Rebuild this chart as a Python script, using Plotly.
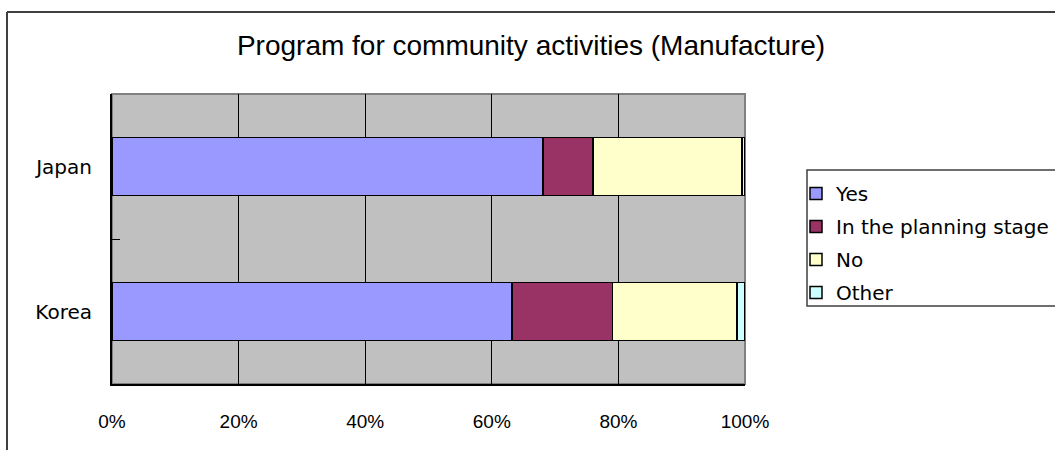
import plotly.graph_objects as go

countries = ["Korea", "Japan"]
series_names = ["Yes", "In the planning stage", "No", "Other"]
yes_vals = [0.632, 0.681]
planning_vals = [0.159, 0.079]
no_vals = [0.196, 0.235]
other_vals = [0.013, 0.005]
x_tick_vals = [0, 0.2, 0.4, 0.6, 0.8, 1.0]
x_tick_text = ["0%", "20%", "40%", "60%", "80%", "100%"]

colors = ["#9999FF", "#993366", "#FFFFCC", "#CCFFFF"]
values = [yes_vals, planning_vals, no_vals, other_vals]

fig = go.Figure()
for name, vals, col in zip(series_names, values, colors):
    fig.add_trace(go.Bar(
        y=countries, x=vals, name=name, orientation="h",
        width=0.4, legendgroup=name,
        marker=dict(color=col, line=dict(color="black", width=1.5)),
    ))

W, H = 1055, 450
L, R, T, B = 112, 745, 94, 384
def px(x):
    return (x - L) / (R - L)
def py(y):
    return (B - y) / (B - T)

fig.update_layout(
    width=W, height=H,
    margin=dict(l=L, r=W - R, t=T, b=H - B, autoexpand=False),
    barmode="stack",
    paper_bgcolor="white",
    plot_bgcolor="#C0C0C0",
    showlegend=True,
    title=dict(text="Program for community activities (Manufacture)",
               x=531 / W, xref="container", xanchor="center",
               y=1 - 45 / H, yref="container", yanchor="middle",
               font=dict(family="Liberation Sans, Arial, sans-serif", size=28, color="black")),
    legend=dict(x=px(796), y=py(174), xanchor="left", yanchor="top",
                xref="paper", yref="paper",
                bgcolor="rgba(0,0,0,0)", borderwidth=0,
                tracegroupgap=4, traceorder="grouped",
                font=dict(family="DejaVu Sans", size=20, color="black")),
    xaxis=dict(range=[0, 1], tickvals=x_tick_vals, ticktext=x_tick_text,
               showgrid=True, gridcolor="black", gridwidth=1,
               showline=True, linecolor="black", linewidth=2,
               ticks="", ticklabelstandoff=19, zeroline=False,
               tickfont=dict(family="Liberation Sans, Arial, sans-serif", size=19, color="black")),
    yaxis=dict(type="category", categoryorder="array", categoryarray=countries,
               range=[-0.5, 1.5], showgrid=False,
               showline=True, linecolor="black", linewidth=2,
               ticks="inside", ticklen=8, tickcolor="black", tickson="boundaries",
               ticklabelstandoff=14,
               tickfont=dict(family="DejaVu Sans", size=20, color="black")),
    shapes=[
        dict(type="rect", xref="paper", yref="paper", x0=0, x1=1, y0=0, y1=1,
             line=dict(color="#808080", width=2), layer="below"),
        dict(type="rect", xref="paper", yref="paper", x0=px(807), x1=px(1070),
             y0=py(306), y1=py(170), line=dict(color="#404040", width=1.5)),
        dict(type="line", xref="paper", yref="paper", x0=px(7), x1=px(7),
             y0=py(460), y1=py(12), line=dict(color="#404040", width=2)),
        dict(type="line", xref="paper", yref="paper", x0=px(7), x1=px(1070),
             y0=py(12), y1=py(12), line=dict(color="#404040", width=2)),
    ],
)

fig.write_html("out.html",
               config={"displayModeBar": False},
               post_script="document.body.style.margin='0';document.body.style.padding='0';")
